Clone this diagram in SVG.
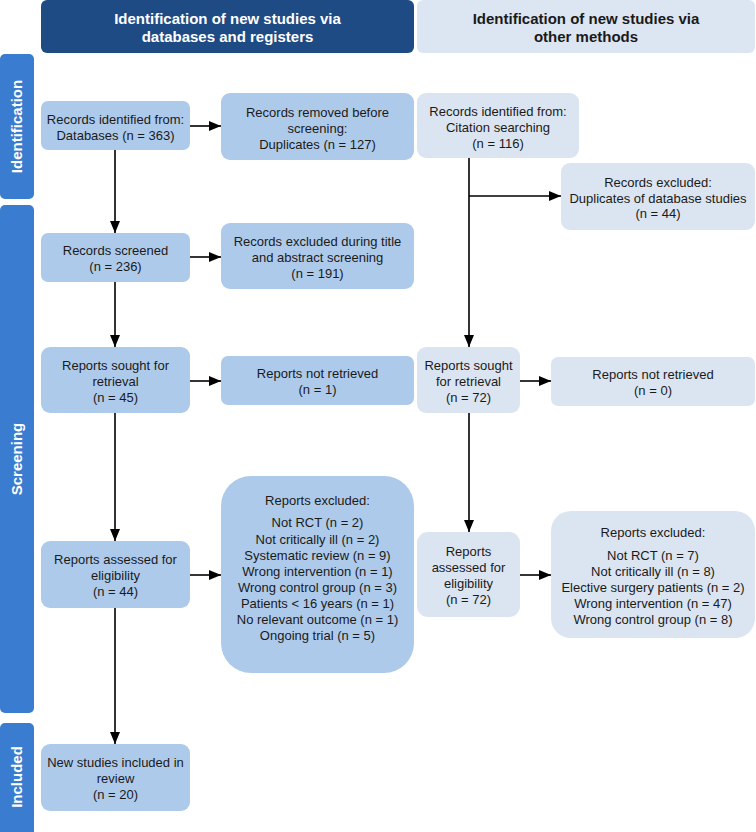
<svg xmlns="http://www.w3.org/2000/svg" width="756" height="832" viewBox="0 0 756 832">
<defs>
<marker id="ah" markerUnits="userSpaceOnUse" markerWidth="12" markerHeight="12" viewBox="0 0 12 12" refX="12" refY="6" orient="auto">
<path d="M0,1 L12,6 L0,11 Z" fill="#000"/>
</marker>
<style>
.hdr1{fill:#1f4b84}
.hdr2{fill:#dce6f2}
.band{fill:#3a7ccf}
.nl{fill:#aecaeb}
.nr{fill:#dbe5f1}
text{font-family:"Liberation Sans",Arial,sans-serif;font-size:13px;fill:#1a1a1a;text-anchor:middle}
.ht{font-size:15px;font-weight:bold;fill:#fff}
.ht2{font-size:15px;font-weight:bold;fill:#1a1a1a}
.bt{font-size:15px;font-weight:bold;fill:#fff}
.c{fill:none;stroke:#000;stroke-width:1.6;marker-end:url(#ah)}
.l{fill:none;stroke:#000;stroke-width:1.6}
</style>
</defs>
<rect width="756" height="832" fill="#fff"/>

<g id="header-left">
<rect class="hdr1" x="41" y="0" width="373" height="53" rx="6"/>
<text class="ht" x="227.5" y="24">Identification of new studies via</text>
<text class="ht" x="227.5" y="42">databases and registers</text>
</g>
<g id="header-right">
<rect class="hdr2" x="417" y="0" width="338" height="53" rx="6"/>
<text class="ht2" x="586" y="24">Identification of new studies via</text>
<text class="ht2" x="586" y="42">other methods</text>
</g>

<g id="band-identification">
<rect class="band" x="0" y="54" width="34" height="145" rx="5"/>
<text class="bt" transform="translate(22,126.5) rotate(-90)">Identification</text>
</g>
<g id="band-screening">
<rect class="band" x="0" y="205" width="34" height="508" rx="5"/>
<text class="bt" transform="translate(22,459) rotate(-90)">Screening</text>
</g>
<g id="band-included">
<rect class="band" x="0" y="723" width="34" height="115" rx="5"/>
<text class="bt" transform="translate(22,777) rotate(-90)">Included</text>
</g>

<g id="n-db-identified">
<rect class="nl" x="41" y="101" width="149" height="49" rx="7"/>
<text x="115.5" y="124">Records identified from:</text>
<text x="115.5" y="140">Databases (n = 363)</text>
</g>
<g id="n-removed">
<rect class="nl" x="221" y="93" width="193" height="67" rx="9"/>
<text x="317.5" y="116.5">Records removed before</text>
<text x="317.5" y="132.5">screening:</text>
<text x="317.5" y="148.5">Duplicates (n = 127)</text>
</g>
<g id="n-citation">
<rect class="nr" x="417" y="93" width="162" height="65" rx="9"/>
<text x="498" y="116">Records identified from:</text>
<text x="498" y="132">Citation searching</text>
<text x="498" y="148">(n = 116)</text>
</g>
<g id="n-dup-excluded">
<rect class="nr" x="561" y="163" width="194" height="67" rx="9"/>
<text x="658" y="187">Records excluded:</text>
<text x="658" y="202.5">Duplicates of database studies</text>
<text x="658" y="218">(n = 44)</text>
</g>
<g id="n-screened">
<rect class="nl" x="41" y="233" width="149" height="49" rx="7"/>
<text x="115.5" y="255">Records screened</text>
<text x="115.5" y="271">(n = 236)</text>
</g>
<g id="n-excl-title">
<rect class="nl" x="221" y="223" width="193" height="66" rx="9"/>
<text x="317.5" y="246">Records excluded during title</text>
<text x="317.5" y="262">and abstract screening</text>
<text x="317.5" y="278">(n = 191)</text>
</g>
<g id="n-sought-left">
<rect class="nl" x="41" y="347" width="149" height="66" rx="9"/>
<text x="115.5" y="370">Reports sought for</text>
<text x="115.5" y="386">retrieval</text>
<text x="115.5" y="402">(n = 45)</text>
</g>
<g id="n-notretr-left">
<rect class="nl" x="221" y="356" width="193" height="49" rx="7"/>
<text x="317.5" y="377.5">Reports not retrieved</text>
<text x="317.5" y="394">(n = 1)</text>
</g>
<g id="n-sought-right">
<rect class="nr" x="417" y="347" width="103" height="66" rx="9"/>
<text x="468.5" y="370">Reports sought</text>
<text x="468.5" y="386">for retrieval</text>
<text x="468.5" y="402">(n = 72)</text>
</g>
<g id="n-notretr-right">
<rect class="nr" x="551" y="357" width="204" height="49" rx="7"/>
<text x="653" y="378.5">Reports not retrieved</text>
<text x="653" y="394.5">(n = 0)</text>
</g>
<g id="n-assessed-left">
<rect class="nl" x="41" y="541" width="149" height="67" rx="9"/>
<text x="115.5" y="564">Reports assessed for</text>
<text x="115.5" y="580">eligibility</text>
<text x="115.5" y="596">(n = 44)</text>
</g>
<g id="n-excl-left">
<rect class="nl" x="221" y="476" width="193" height="197" rx="30"/>
<text x="317.5" y="505">Reports excluded:</text>
<text x="317.5" y="527">Not RCT (n = 2)</text>
<text x="317.5" y="543.5">Not critically ill (n = 2)</text>
<text x="317.5" y="559.5">Systematic review (n = 9)</text>
<text x="317.5" y="575.5">Wrong intervention (n = 1)</text>
<text x="317.5" y="591.5">Wrong control group (n = 3)</text>
<text x="317.5" y="607.5">Patients &lt; 16 years (n = 1)</text>
<text x="317.5" y="623.5">No relevant outcome (n = 1)</text>
<text x="317.5" y="639.5">Ongoing trial (n = 5)</text>
</g>
<g id="n-assessed-right">
<rect class="nr" x="417" y="532" width="103" height="85" rx="11"/>
<text x="468.5" y="556">Reports</text>
<text x="468.5" y="572">assessed for</text>
<text x="468.5" y="588">eligibility</text>
<text x="468.5" y="604">(n = 72)</text>
</g>
<g id="n-excl-right">
<rect class="nr" x="551" y="511" width="204" height="127" rx="20"/>
<text x="653" y="537">Reports excluded:</text>
<text x="653" y="559.5">Not RCT (n = 7)</text>
<text x="653" y="575.5">Not critically ill (n = 8)</text>
<text x="653" y="591.5">Elective surgery patients (n = 2)</text>
<text x="653" y="607.5">Wrong intervention (n = 47)</text>
<text x="653" y="623.5">Wrong control group (n = 8)</text>
</g>
<g id="n-included">
<rect class="nl" x="41" y="744" width="149" height="67" rx="9"/>
<text x="115.5" y="767">New studies included in</text>
<text x="115.5" y="783">review</text>
<text x="115.5" y="799">(n = 20)</text>
</g>

<g id="connectors">
<path class="c" d="M115,150 V233"/>
<path class="c" d="M115,282 V347"/>
<path class="c" d="M115,413 V541"/>
<path class="c" d="M115,608 V744"/>
<path class="c" d="M190,126 H221"/>
<path class="c" d="M190,257 H221"/>
<path class="c" d="M190,381 H221"/>
<path class="c" d="M190,575 H221"/>
<path class="c" d="M469,158 V347"/>
<path class="c" d="M469,196 H561"/>
<path class="c" d="M469,413 V532"/>
<path class="c" d="M520,381 H551"/>
<path class="c" d="M520,575 H551"/>
</g>
</svg>
